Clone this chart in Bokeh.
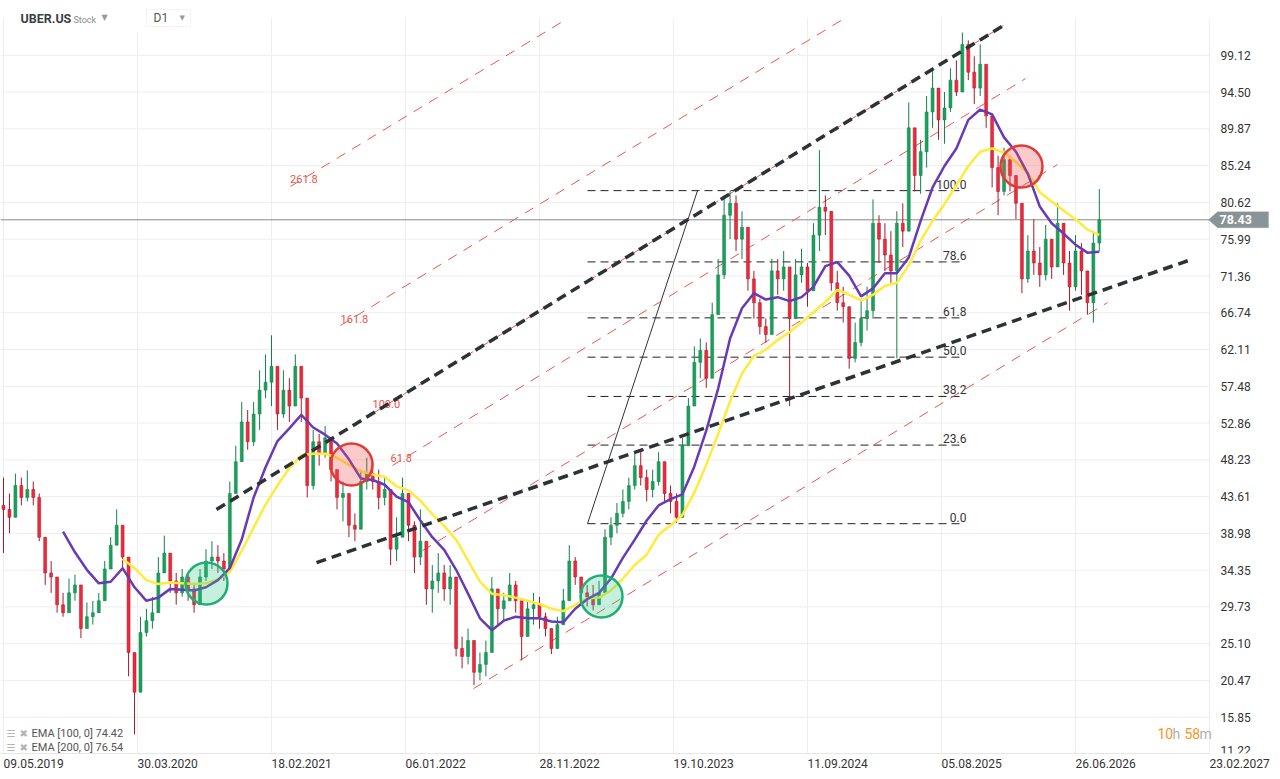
import numpy as np
from bokeh.plotting import figure
from bokeh.models import (Range1d, FixedTicker, Label, BoxAnnotation, PolyAnnotation,
                          ColumnDataSource)
from bokeh.core.properties import value
from bokeh.embed import file_html
from bokeh.resources import INLINE

FONT = "Roboto"

# ---------------- axis data ----------------
# time axis: trading-day index counted from the first bar
date_ticks = [0, 225, 450, 675, 900, 1125, 1350, 1575, 1800, 2025]
date_labels = ["09.05.2019", "30.03.2020", "18.02.2021", "06.01.2022", "28.11.2022",
               "19.10.2023", "11.09.2024", "05.08.2025", "26.06.2026", "23.02.2027"]
price_ticks = [11.22, 15.85, 20.47, 25.10, 29.73, 34.35, 38.98, 43.61, 48.23, 52.86,
               57.48, 62.11, 66.74, 71.36, 75.99, 80.62, 85.24, 89.87, 94.50, 99.12]

# ---------------- candles (one per 10 trading days) ----------------
bar_days = 10
first_open = 42.5
close = [42.0, 41.0, 45.0, 43.5, 44.5, 43.5, 38.5, 34.0, 33.5, 30.0,
         29.0, 31.5, 32.5, 27.0, 28.5, 29.0, 30.5, 34.5, 37.5, 40.0,
         36.0, 24.0, 19.0, 26.5, 28.0, 29.0, 34.0, 36.5, 33.0, 31.5,
         33.5, 32.0, 30.0, 33.5, 35.5, 36.0, 35.5, 34.5, 44.0, 48.0,
         53.0, 50.5, 54.0, 57.0, 58.0, 60.0, 54.0, 57.0, 55.0, 60.0,
         56.0, 45.0, 50.5, 49.0, 51.0, 47.0, 43.5, 44.0, 40.0, 39.5,
         45.5, 46.5, 45.5, 43.5, 44.5, 37.0, 38.5, 44.0, 40.0, 36.0,
         38.0, 32.0, 33.0, 34.0, 32.0, 33.5, 24.5, 23.5, 25.5, 21.5,
         22.5, 24.0, 32.0, 29.5, 30.5, 32.5, 30.5, 26.0, 29.5, 30.0,
         28.5, 27.0, 24.5, 27.5, 30.5, 35.5, 33.5, 31.5, 31.0, 30.0,
         31.5, 38.5, 40.0, 41.5, 43.0, 45.0, 47.5, 46.0, 44.5, 45.5,
         48.0, 44.0, 43.0, 41.0, 50.0, 55.0, 60.5, 62.0, 58.5, 66.5,
         71.5, 79.0, 80.5, 76.0, 77.5, 71.0, 68.0, 65.0, 64.0, 72.0,
         71.0, 72.5, 66.0, 71.5, 72.5, 69.5, 76.5, 80.0, 79.5, 70.5,
         68.0, 67.5, 61.0, 63.0, 66.0, 67.0, 78.0, 76.0, 74.0, 72.0,
         78.0, 77.0, 90.0, 84.0, 87.0, 92.0, 95.0, 91.0, 92.5, 96.0,
         94.5, 100.5, 97.0, 95.0, 98.0, 91.5, 85.0, 82.0, 86.0, 84.0,
         80.5, 71.0, 74.5, 73.0, 71.5, 76.0, 72.5, 78.0, 73.0, 70.0,
         74.5, 72.0, 68.0, 75.5, 78.43]
high = [46.0, 44.0, 46.5, 46.0, 46.9, 45.5, 44.0, 37.0, 35.5, 33.0,
        31.5, 33.3, 33.8, 30.0, 30.3, 30.5, 31.5, 35.5, 38.5, 42.0,
        40.0, 31.0, 24.0, 28.5, 29.5, 31.0, 36.0, 38.7, 35.0, 34.0,
        34.5, 34.0, 32.5, 34.5, 37.0, 38.0, 37.5, 36.5, 45.5, 50.0,
        55.5, 54.5, 55.5, 59.5, 61.5, 63.9, 59.0, 59.5, 58.5, 61.5,
        59.0, 53.0, 52.0, 51.5, 52.5, 49.5, 46.5, 45.5, 42.5, 41.5,
        47.0, 48.5, 48.0, 47.0, 46.0, 41.0, 41.0, 46.0, 43.5, 40.5,
        42.0, 36.5, 35.0, 36.5, 35.0, 35.0, 29.5, 26.0, 27.0, 23.5,
        24.0, 25.5, 33.5, 32.0, 31.5, 34.0, 33.0, 30.0, 30.5, 31.5,
        31.0, 29.0, 26.5, 28.5, 32.0, 37.5, 36.0, 33.5, 32.5, 32.5,
        33.0, 39.5, 41.0, 42.8, 44.5, 46.0, 49.0, 49.5, 47.0, 47.0,
        49.2, 48.0, 45.0, 44.0, 51.0, 56.0, 62.5, 63.5, 63.0, 68.0,
        73.5, 81.5, 82.1, 81.5, 79.5, 74.5, 72.0, 68.5, 66.0, 73.5,
        73.5, 74.5, 70.0, 73.5, 74.8, 73.0, 78.0, 87.2, 81.5, 74.0,
        72.0, 70.0, 64.5, 65.5, 68.5, 70.0, 81.0, 79.0, 78.0, 77.0,
        79.5, 80.5, 93.2, 88.0, 88.5, 94.0, 97.2, 94.0, 94.5, 97.5,
        98.5, 102.0, 101.0, 99.0, 100.5, 96.0, 90.5, 86.5, 87.5, 86.5,
        83.0, 77.5, 76.5, 78.5, 75.0, 77.8, 76.0, 80.5, 76.5, 74.5,
        76.5, 75.5, 72.0, 77.0, 82.3]
low = [36.5, 39.0, 41.5, 42.5, 43.0, 42.5, 38.0, 32.5, 31.5, 29.0,
       28.5, 29.5, 30.5, 25.8, 27.0, 27.5, 29.0, 31.5, 35.0, 38.0,
       34.5, 21.0, 13.7, 21.5, 26.0, 27.0, 31.5, 34.5, 31.5, 30.0,
       31.0, 30.5, 29.0, 31.0, 33.0, 34.5, 34.0, 33.0, 34.5, 44.0,
       48.0, 49.5, 50.0, 52.0, 56.0, 55.0, 52.0, 53.5, 53.0, 55.0,
       53.0, 43.5, 44.5, 47.5, 48.5, 45.5, 42.0, 40.5, 38.5, 38.0,
       41.5, 44.5, 44.5, 42.0, 42.5, 35.0, 35.5, 40.0, 38.0, 34.0,
       35.0, 30.0, 29.0, 31.5, 30.5, 30.0, 23.5, 22.0, 22.5, 19.9,
       20.5, 21.0, 24.0, 27.5, 28.0, 30.5, 29.0, 23.0, 27.0, 27.5,
       27.0, 26.0, 23.8, 24.5, 28.0, 31.0, 32.5, 30.0, 29.8, 29.3,
       30.0, 32.0, 37.5, 39.0, 41.0, 42.0, 44.5, 45.0, 43.0, 43.5,
       45.0, 43.0, 41.5, 40.3, 41.0, 50.0, 55.5, 58.5, 57.3, 58.5,
       66.5, 71.0, 76.0, 74.5, 73.5, 69.5, 66.0, 64.0, 63.0, 65.5,
       69.0, 69.5, 55.0, 67.0, 70.5, 67.5, 72.0, 74.5, 76.5, 69.5,
       67.0, 65.5, 59.7, 60.5, 62.5, 64.5, 66.0, 73.0, 72.0, 70.5,
       61.0, 75.0, 78.0, 82.0, 81.7, 85.0, 90.0, 88.5, 88.0, 92.0,
       94.0, 96.0, 96.0, 93.0, 94.0, 90.0, 82.5, 79.0, 81.5, 82.0,
       78.5, 69.2, 70.5, 71.5, 70.0, 70.8, 71.0, 73.0, 71.5, 67.0,
       69.5, 69.0, 66.5, 65.5, 74.5]
last_price = 78.43

# ---------------- moving averages (sampled every 20 trading days) ----------------
ema_step = 20
ema100_first_day = 100
ema100 = [39.2, 36.6, 34.4, 32.7, 32.9, 34.6, 32.2, 30.5, 30.9, 32.0,
          31.9, 31.8, 32.2, 33.1, 34.6, 38.2, 43.5, 47.3, 50.6, 52.2,
          53.9, 52.3, 51.4, 50.3, 48.3, 45.9, 45.7, 45.1, 43.6, 42.9,
          40.6, 38.5, 36.9, 34.4, 31.4, 28.3, 26.8, 28.0, 28.5, 28.3,
          28.3, 27.9, 27.8, 29.5, 30.7, 31.5, 33.3, 35.9, 38.2, 40.6,
          42.5, 43.3, 43.9, 47.4, 51.9, 57.2, 63.5, 67.3, 69.2, 68.4,
          68.7, 68.2, 68.7, 70.0, 72.6, 73.1, 71.4, 68.8, 69.8, 71.7,
          71.7, 73.7, 78.3, 82.5, 85.2, 87.4, 91.0, 92.3, 91.7, 88.8,
          87.0, 84.2, 80.1, 78.0, 76.7, 75.3, 74.3, 74.42]
ema200_first_day = 200
ema200 = [35.8, 34.6, 33.1, 32.6, 32.8, 32.7, 32.6, 32.7, 33.2, 34.1,
          36.8, 39.7, 42.6, 45.0, 47.2, 48.8, 49.0, 49.0, 48.5, 47.6,
          46.8, 46.4, 46.1, 44.9, 44.4, 43.1, 41.4, 39.9, 38.2, 35.6,
          32.9, 31.4, 31.2, 30.9, 30.5, 30.1, 29.5, 29.2, 30.0, 30.8,
          30.9, 31.8, 33.3, 35.0, 36.3, 38.8, 40.0, 41.3, 44.1, 47.6,
          51.5, 55.6, 59.1, 61.3, 62.1, 63.3, 64.3, 65.5, 66.8, 68.1,
          69.6, 69.0, 68.3, 69.0, 70.1, 70.5, 72.7, 75.8, 78.3, 80.4,
          82.8, 85.2, 87.0, 87.4, 86.9, 85.7, 84.3, 81.9, 80.7, 79.6,
          78.5, 77.2, 76.54]

# ---------------- drawing tools (day index, price) ----------------
trend_upper = [(357.6, 41.98), (1679.1, 102.87)]
trend_lower = [(525.6, 35.31), (1989.7, 73.31)]
channel_starts_x = [481.9, 565.9, 619.6, 653.2, 703.5, 789.2]
channel_starts_y = [82.62, 65.13, 54.06, 47.52, 36.82, 19.46]
channel_ends_x = [947.0, 1408.8, 1679.1, 1716.1, 1769.8, 1853.7]
channel_ends_y = [103.75, 103.62, 102.87, 96.20, 85.38, 68.02]
channel_label_text = ["261.8", "161.8", "100.0", "61.8"]
channel_label_x = [481.2, 565.9, 619.6, 649.8]
channel_label_y = [83.62, 66.01, 55.32, 48.52]

fib_low_day, fib_low = 980.6, 40.2
fib_high_day, fib_high = 1165.3, 82.1
fib_end_day = 1612.0
fib_levels = [0.0, 23.6, 38.2, 50.0, 61.8, 78.6, 100.0]

green_marks_x = [340.9, 1004.1]
green_marks_y = [32.67, 31.04]
red_marks_x = [584.3, 1709.3]
red_marks_y = [47.64, 85.13]

# ---------------- colours ----------------
UP, UP_WICK = "#1a9f5c", "#12804a"
DOWN, DOWN_WICK = "#f0283c", "#a51a2b"
PURPLE, YELLOW = "#673ab7", "#ffeb3b"
GRID = "#eeeeee"
TXT = "#333333"

# chart area limits (day index / price) and the outer view
X_START, X_CHART_END, X_VIEW_END = -5.04, 2026.7, 2137.5
Y_BOTTOM, Y_CHART_TOP, Y_VIEW_TOP = 11.29, 103.75, 106.02

p = figure(width=1276, height=778, output_backend="svg", toolbar_location=None,
           x_range=Range1d(X_START, X_VIEW_END), y_range=Range1d(Y_BOTTOM, Y_VIEW_TOP),
           y_axis_location=None,
           min_border_left=0, min_border_top=0, min_border_right=0, min_border_bottom=25)
p.outline_line_color = None
p.background_fill_color = "white"
p.grid.visible = False

# x axis (real bokeh axis, labels start at their tick)
xa = p.xaxis[0]
xa.ticker = FixedTicker(ticks=date_ticks)
xa.major_label_overrides = {t: s for t, s in zip(date_ticks, date_labels)}
xa.major_label_orientation = -1e-4
xa.major_label_standoff = 10
xa.bounds = (X_START, date_ticks[-1])
xa.major_tick_line_color = None
xa.minor_tick_line_color = None
xa.major_tick_out = 0
xa.major_tick_in = 0
xa.axis_line_color = "#e6e6e6"
xa.major_label_text_font = FONT
xa.major_label_text_font_size = "12px"
xa.major_label_text_color = TXT

# grid lines, limited to the chart area
p.segment(x0=date_ticks, y0=[Y_BOTTOM] * len(date_ticks), x1=date_ticks,
          y1=[Y_CHART_TOP] * len(date_ticks), line_color=GRID, line_width=1)
p.segment(x0=[X_START] * len(price_ticks), y0=price_ticks, x1=[date_ticks[-1]] * len(price_ticks),
          y1=price_ticks, line_color=GRID, line_width=1)

# price scale labels on the right
p.text(x=[X_CHART_END] * len(price_ticks), y=price_ticks, text=["%.2f" % v for v in price_ticks],
       x_offset=10, y_offset=[-4] + [0] * (len(price_ticks) - 1),
       text_align="left", text_baseline="middle", text_font=value(FONT),
       text_font_size="12px", text_color=TXT)

# fib retracement
fib_prices = [fib_low + (fib_high - fib_low) * lv / 100.0 for lv in fib_levels]
p.segment(x0=[fib_low_day] * len(fib_prices), y0=fib_prices,
          x1=[fib_end_day] * len(fib_prices), y1=fib_prices,
          line_color="#222222", line_width=1, line_dash="8 5")
p.text(x=[fib_end_day + 5] * len(fib_prices), y=fib_prices,
       text=["%.1f" % lv for lv in fib_levels], text_align="right", text_baseline="bottom",
       y_offset=-2, text_font=value(FONT), text_font_size="12px", text_color=TXT)
p.line(x=[fib_low_day, fib_high_day], y=[fib_low, fib_high], line_color="#333333", line_width=1)

# parallel channel
p.segment(x0=channel_starts_x, y0=channel_starts_y, x1=channel_ends_x, y1=channel_ends_y,
          line_color="#ef5350", line_width=1, line_dash="10 8")
p.text(x=channel_label_x, y=channel_label_y, text=channel_label_text,
       text_align="left", text_baseline="middle", text_font=value(FONT),
       text_font_size="11px", text_color="#e8534a")

# last price line
p.segment(x0=[X_START], y0=[last_price], x1=[X_CHART_END], y1=[last_price],
          line_color="#8a8a8a", line_width=1)

# candles
c = np.array(close)
o = np.array([first_open] + close[:-1])
h = np.maximum(np.maximum(np.array(high), o), c)
l = np.minimum(np.minimum(np.array(low), o), c)
xs = np.arange(len(c)) * bar_days
up = c >= o
dn = ~up
src_up = ColumnDataSource(dict(x=xs[up], h=h[up], l=l[up], top=c[up], bot=o[up]))
src_dn = ColumnDataSource(dict(x=xs[dn], h=h[dn], l=l[dn], top=o[dn], bot=c[dn]))
p.segment(x0="x", y0="h", x1="x", y1="l", source=src_up, line_color=UP_WICK, line_width=1)
p.segment(x0="x", y0="h", x1="x", y1="l", source=src_dn, line_color=DOWN_WICK, line_width=1)
p.vbar(x="x", width=5, top="top", bottom="bot", source=src_up, fill_color=UP,
       line_color=UP_WICK, line_width=0.5)
p.vbar(x="x", width=5, top="top", bottom="bot", source=src_dn, fill_color=DOWN,
       line_color=DOWN_WICK, line_width=0.5)

# EMAs
e100_x = ema100_first_day + np.arange(len(ema100)) * ema_step
e200_x = ema200_first_day + np.arange(len(ema200)) * ema_step
p.line(e200_x, ema200, line_color=YELLOW, line_width=2.5)
p.line(e100_x, ema100, line_color=PURPLE, line_width=2.5)

# trend lines
for seg in (trend_upper, trend_lower):
    p.line([seg[0][0], seg[1][0]], [seg[0][1], seg[1][1]], line_color="#2d3236",
           line_width=3.5, line_dash="10 6")

# circles
p.scatter(green_marks_x, green_marks_y, marker="circle", size=42, fill_color="#34c98a",
          fill_alpha=0.28, line_color="#1fae74", line_width=2.5)
p.scatter(red_marks_x, red_marks_y, marker="circle", size=42, fill_color="#ef5350",
          fill_alpha=0.3, line_color="#e53935", line_width=2.5)

# last price tag on the price scale
p.add_layout(PolyAnnotation(xs=[1208, 1217, 1268, 1268, 1217], xs_units="screen",
                            ys=[last_price, last_price + 1.0, last_price + 1.0,
                                last_price - 1.0, last_price - 1.0], ys_units="data",
                            fill_color="#8a9396", fill_alpha=1.0, line_color="#8a9396"))
p.add_layout(Label(x=1219, x_units="screen", y=last_price, text="%.2f" % last_price,
                   text_baseline="middle", text_color="white", text_font=FONT,
                   text_font_style="bold", text_font_size="12.5px"))

# header
p.add_layout(BoxAnnotation(left=14, right=141, left_units="screen", right_units="screen",
                           top=Y_CHART_TOP, bottom=102.0, fill_color="white", fill_alpha=1.0,
                           line_color=None))
p.add_layout(Label(x=20, x_units="screen", y=103.75, text="UBER.US", text_baseline="middle",
                   text_font=FONT, text_font_style="bold", text_font_size="12.5px",
                   text_color="#3a3f44"))
p.add_layout(Label(x=73, x_units="screen", y=103.55, text="Stock", text_baseline="middle",
                   text_font=FONT, text_font_size="9px", text_color="#8a8a8a"))
p.add_layout(Label(x=101, x_units="screen", y=103.85, text="▼", text_baseline="middle",
                   text_font="DejaVu Sans", text_font_size="8px", text_color="#9a9a9a"))
p.add_layout(BoxAnnotation(left=146, right=190, left_units="screen", right_units="screen",
                           top=104.88, bottom=102.74, fill_color="white", fill_alpha=1.0,
                           line_color="#dcdcdc", line_width=1))
p.add_layout(Label(x=153, x_units="screen", y=103.8, text="D1", text_baseline="middle",
                   text_font=FONT, text_font_size="12px", text_color="#555555"))
p.add_layout(Label(x=179, x_units="screen", y=103.85, text="▼", text_baseline="middle",
                   text_font="DejaVu Sans", text_font_size="7px", text_color="#9a9a9a"))

# indicator legend (bottom-left)
for yy, txt in ((13.80, "EMA [100, 0] 74.42"), (12.04, "EMA [200, 0] 76.54")):
    p.add_layout(Label(x=6, x_units="screen", y=yy, text="☰", text_baseline="middle",
                       text_font="DejaVu Sans", text_font_size="10px", text_color="#b4b4b4"))
    p.add_layout(Label(x=19, x_units="screen", y=yy, text="✖", text_baseline="middle",
                       text_font="DejaVu Sans", text_font_size="10px", text_color="#b4b4b4"))
    p.add_layout(Label(x=31, x_units="screen", y=yy, text=txt, text_baseline="middle",
                       text_font=FONT, text_font_size="11px", text_color="#555555"))

# countdown (bottom-right)
for xx, txt, col in ((1157, "10", "#f7941d"), (1172, "h", "#b0b0b0"),
                     (1184, "58", "#f7941d"), (1199, "m", "#b0b0b0")):
    p.add_layout(Label(x=xx, x_units="screen", y=13.80, text=txt, text_baseline="middle",
                       text_font=FONT, text_font_size="14px", text_color=col))

open("out.html", "w").write(file_html(p, INLINE))
